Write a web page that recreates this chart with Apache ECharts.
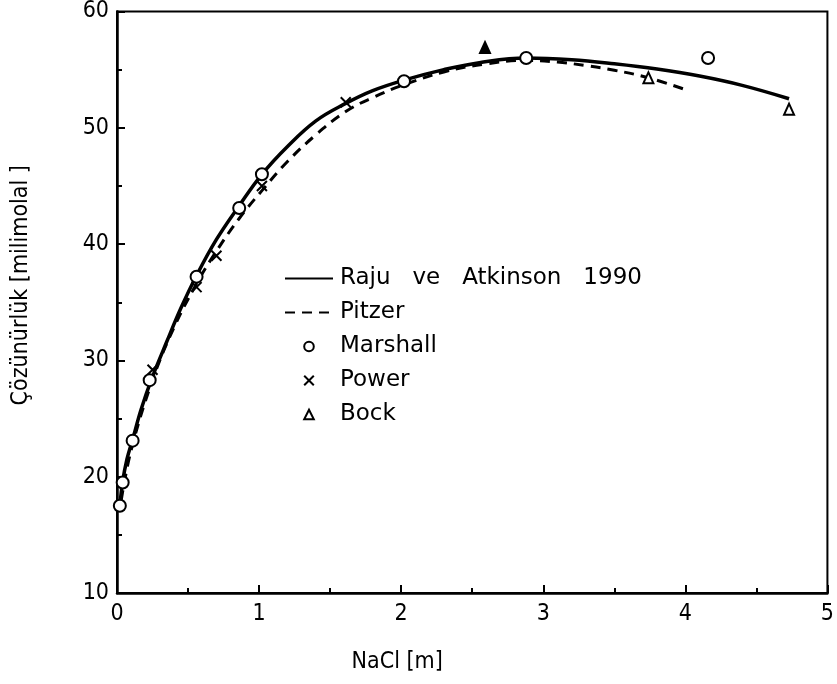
<!DOCTYPE html>
<html>
<head>
<meta charset="utf-8">
<script src="https://cdn.jsdelivr.net/npm/echarts@6/dist/echarts.min.js"></script>
<style>html,body{margin:0;padding:0;background:#fff}#c{width:837px;height:684px}</style>
</head>
<body>
<div id="c"></div>
<script>
// Data
const rajuCurve = [[0.02,17.5],[0.04,19.6],[0.07,21.5],[0.11,23.2],[0.17,25.8],[0.25,28.6],[0.35,31.6],[0.45,34.5],[0.56,37.3],[0.7,40.4],[0.86,43.3],[1.02,46.0],[1.2,48.4],[1.4,50.6],[1.61,52.1],[1.8,53.2],[2.02,54.1],[2.3,55.0],[2.55,55.6],[2.88,56.0],[3.2,55.85],[3.5,55.5],[3.8,55.05],[4.1,54.45],[4.4,53.65],[4.73,52.5]];
const pitzerCurve = [[0.03,18.0],[0.1,22.3],[0.25,28.3],[0.4,32.8],[0.56,36.6],[0.7,39.4],[0.86,42.2],[1.02,44.6],[1.2,47.1],[1.4,49.4],[1.61,51.4],[1.8,52.6],[2.02,53.7],[2.3,54.8],[2.6,55.5],[2.88,55.8],[3.1,55.65],[3.3,55.35],[3.5,54.95],[3.74,54.3],[4.02,53.2]];
const marshall = [[0.02,17.5],[0.04,19.5],[0.11,23.1],[0.23,28.3],[0.56,37.2],[0.86,43.1],[1.02,46.0],[2.02,54.0],[2.88,56.0],[4.16,56.0]];
const power = [[0.25,29.2],[0.56,36.3],[0.70,39.0],[1.02,45.0],[1.61,52.2]];
const bockFilled = [[2.59,56.9]];
const bockOpen = [[3.74,54.3],[4.73,51.6]];
const names = ['Raju   ve   Atkinson   1990','Pitzer','Marshall','Power','Bock'];
const xTicks = [0,1,2,3,4,5];
const yTicks = [10,20,30,40,50,60];

const font = 'DejaVu Sans Condensed, DejaVu Sans, sans-serif';
const legendFont = 'DejaVu Sans, sans-serif';
const chart = echarts.init(document.getElementById('c'), null, {renderer:'canvas'});
const hidden = {width:0, opacity:0};
const clear = 'rgba(0,0,0,0)';
const bockData = bockFilled.map(p => ({value:p, itemStyle:{color:'#000'}})).concat(bockOpen.map(p => ({value:p})));
chart.setOption({
  animation:false,
  backgroundColor:'#fff',
  grid:{left:117, right:3, top:11, bottom:91, show:true, borderColor:'#000', borderWidth:2, backgroundColor:'transparent'},
  legend:{
    orient:'vertical', left:279, top:262, itemWidth:48, itemHeight:12, itemGap:11,
    textStyle:{fontFamily:legendFont, fontSize:23, color:'#000', padding:[0,0,0,2]},
    data:names, selectedMode:false
  },
  xAxis:{
    type:'value', min:xTicks[0], max:xTicks[xTicks.length-1], interval:1,
    axisLine:{lineStyle:{color:'#000', width:2.5}},
    axisTick:{inside:true, length:8, lineStyle:{color:'#000', width:2}},
    minorTick:{show:true, splitNumber:2, length:5, lineStyle:{color:'#000', width:2}},
    splitLine:{show:false},
    axisLabel:{fontFamily:font, fontSize:23, color:'#000', margin:10},
    name:'NaCl [m]', nameLocation:'middle', nameGap:58,
    nameTextStyle:{fontFamily:font, fontSize:23, color:'#000', padding:[0,150,0,0]}
  },
  yAxis:{
    type:'value', min:yTicks[0], max:yTicks[yTicks.length-1], interval:10,
    axisLine:{lineStyle:{color:'#000', width:2.5}},
    axisTick:{inside:true, length:8, lineStyle:{color:'#000', width:2}},
    minorTick:{show:true, splitNumber:2, length:5, lineStyle:{color:'#000', width:2}},
    splitLine:{show:false},
    axisLabel:{fontFamily:font, fontSize:23, color:'#000', margin:8},
    name:'Çözünürlük [milimolal ]', nameLocation:'middle', nameGap:84,
    nameTextStyle:{fontFamily:font, fontSize:23, color:'#000', padding:[0,0,0,34]}
  },
  series:[
    {name:names[0], type:'line', data:rajuCurve, smooth:0.4, symbol:'circle', showSymbol:false, z:3,
     lineStyle:{color:'#000', width:3.5}, itemStyle:{color:clear, borderWidth:0}},
    {name:names[1], type:'line', data:pitzerCurve, smooth:0.4, symbol:'circle', showSymbol:false, z:3,
     lineStyle:{color:'#000', width:3, type:[10,7]}, itemStyle:{color:clear, borderWidth:0}},
    {name:names[2], type:'line', data:marshall, symbol:'emptyCircle', symbolSize:12, z:5,
     lineStyle:hidden, itemStyle:{color:'#000', borderColor:'#000', borderWidth:2.2}},
    {name:names[3], type:'line', data:power, symbol:'path://M0,0L10,10M10,0L0,10', symbolSize:10, z:4,
     lineStyle:hidden, itemStyle:{color:'none', borderColor:'#000', borderWidth:2}},
    {name:names[4], type:'line', data:bockData, symbol:'triangle', symbolSize:[10,11], z:5,
     lineStyle:hidden, itemStyle:{color:'#fff', borderColor:'#000', borderWidth:2}}
  ]
});
</script>
</body>
</html>
